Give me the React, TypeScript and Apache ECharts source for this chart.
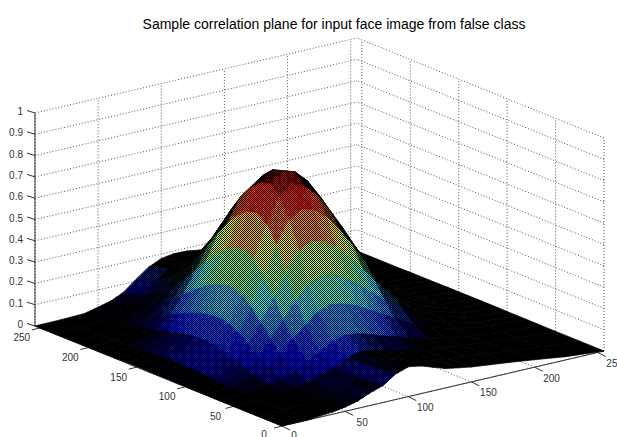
import React, { useEffect, useRef } from "react";
import * as echarts from "echarts";

const titleText = "Sample correlation plane for input face image from false class";
const xTicks = [0, 50, 100, 150, 200, 250];
const yTicks = [0, 50, 100, 150, 200, 250];
const zTicks = [0, 0.1, 0.2, 0.3, 0.4, 0.5, 0.6, 0.7, 0.8, 0.9, 1];
const zTickLabels = ["0", "0.1", "0.2", "0.3", "0.4", "0.5", "0.6", "0.7", "0.8", "0.9", "1"];

const gridX = [0, 20, 40, 50, 60, 70, 80, 90, 100, 110, 120, 130, 140, 150, 165, 180, 200, 225, 255];
const gridY = [0, 25, 50, 65, 80, 90, 100, 110, 120, 130, 140, 150, 160, 170, 180, 190, 200, 215, 235, 255];
const heights = [
  [0, 0, .01, .02, .035, .06, .08, .12, .14, .13, .11, .09, .08, .07, .06, .05, .035, .015, 0],
  [0, 0, .009, .018, .032, .053, .071, .106, .123, .115, .097, .08, .071, .062, .052, .043, .03, .013, 0],
  [0, .001, .011, .021, .035, .057, .076, .104, .118, .111, .097, .081, .071, .061, .048, .037, .024, .01, 0],
  [0, .003, .018, .035, .059, .09, .119, .154, .169, .162, .145, .124, .107, .088, .065, .045, .026, .01, 0],
  [.001, .006, .035, .065, .109, .164, .216, .266, .286, .276, .253, .22, .187, .152, .105, .067, .033, .011, .001],
  [.001, .01, .052, .096, .159, .238, .314, .38, .406, .394, .363, .318, .269, .218, .147, .092, .042, .012, .001],
  [.002, .014, .071, .131, .218, .323, .427, .511, .544, .528, .488, .429, .363, .292, .195, .119, .054, .015, .001],
  [.002, .018, .089, .165, .273, .404, .534, .637, .677, .658, .61, .537, .453, .364, .241, .146, .063, .017, .002],
  [.003, .021, .102, .189, .313, .462, .611, .727, .771, .75, .695, .612, .517, .415, .274, .163, .07, .018, .002],
  [.003, .022, .107, .199, .33, .489, .649, .774, .815, .802, .745, .657, .556, .447, .296, .177, .076, .02, .002],
  [.003, .022, .105, .195, .323, .479, .637, .759, .807, .788, .733, .649, .548, .442, .293, .175, .075, .02, .002],
  [.003, .02, .098, .183, .304, .451, .601, .717, .763, .745, .695, .615, .521, .42, .278, .166, .071, .019, .002],
  [.003, .018, .089, .167, .277, .411, .55, .658, .701, .687, .64, .568, .482, .389, .259, .154, .067, .018, .002],
  [.002, .016, .077, .145, .241, .358, .482, .578, .617, .606, .566, .503, .428, .346, .23, .138, .059, .016, .001],
  [.002, .013, .064, .122, .203, .303, .409, .492, .527, .518, .485, .434, .37, .299, .2, .119, .051, .014, .001],
  [.001, .011, .051, .098, .164, .246, .336, .407, .438, .432, .406, .364, .312, .253, .17, .102, .044, .012, .001],
  [.001, .008, .039, .078, .13, .197, .274, .337, .366, .363, .343, .309, .267, .218, .148, .09, .04, .011, .001],
  [.001, .005, .025, .053, .089, .138, .2, .252, .278, .28, .268, .245, .215, .177, .124, .077, .036, .011, 0],
  [0, .002, .011, .03, .052, .086, .136, .182, .208, .215, .209, .196, .176, .148, .107, .069, .033, .011, 0],
  [0, .001, .005, .019, .034, .061, .108, .152, .179, .188, .186, .177, .163, .139, .102, .067, .033, .011, 0],
];

const AXIS_MAX = 255;
const project = (x: number, y: number, z: number): number[] => [
  282 + (x * 322) / AXIS_MAX - (y * 247) / AXIS_MAX,
  426 - (x * 75) / AXIS_MAX - (y * 100) / AXIS_MAX - z * 213,
];

const clamp01 = (v: number) => Math.max(0, Math.min(1, v));
const jet = (t: number, k: number) => {
  const c = (o: number) => Math.round(255 * k * clamp01(1.5 - Math.abs(4 * t - o)));
  return `rgb(${c(3)},${c(2)},${c(1)})`;
};
const zPeak = Math.max(...heights.map((r) => Math.max(...r)));
const signedArea = (p: number[][]) => {
  let s = 0;
  p.forEach((a, i) => {
    const b = p[(i + 1) % p.length];
    s += a[0] * b[1] - b[0] * a[1];
  });
  return s / 2;
};

type Seg = number[];
const gridSegs: Seg[] = [];
const M = AXIS_MAX;
xTicks.forEach((x) => {
  gridSegs.push([x, M, 0, x, M, 1]);
  gridSegs.push([x, 0, 0, x, M, 0]);
});
yTicks.forEach((y) => {
  gridSegs.push([M, y, 0, M, y, 1]);
  gridSegs.push([0, y, 0, M, y, 0]);
});
zTicks.forEach((z) => {
  gridSegs.push([0, M, z, M, M, z]);
  gridSegs.push([M, 0, z, M, M, z]);
});

const axisSegs: Seg[] = [
  [0, M, 0, 0, M, 1],
  [0, 0, 0, M, 0, 0],
  [0, 0, 0, 0, M, 0],
];

const labels: { text: string; x: number; y: number; align: string }[] = [];
const tickOffsets: number[][] = [];
xTicks.forEach((x) => {
  const p = project(x, 0, 0);
  tickOffsets.push([p[0], p[1], p[0] + 8, p[1] + 4]);
  labels.push({ text: String(x), x: p[0] + (x === 0 ? 12 : 17), y: p[1] + (x === 0 ? 9 : 11), align: "center" });
});
yTicks.forEach((y) => {
  const p = project(0, y, 0);
  tickOffsets.push([p[0], p[1], p[0] - 8, p[1] + 2]);
  labels.push({ text: String(y), x: p[0] - 18, y: p[1] + (y === 0 ? 8 : 10), align: "center" });
});
zTicks.forEach((z, i) => {
  const p = project(0, M, z);
  tickOffsets.push([p[0], p[1], p[0] - 8, p[1] - 2.5]);
  labels.push({ text: zTickLabels[i], x: p[0] - 12, y: p[1] - 1.5, align: "right" });
});

const cells: number[][] = [];
for (let j = gridY.length - 2; j >= 0; j--) {
  for (let i = gridX.length - 2; i >= 0; i--) cells.push([i, j]);
}

export default function App() {
  const ref = useRef<HTMLDivElement>(null);
  useEffect(() => {
    document.body.style.margin = "0";
    document.body.style.background = "#fff";
    const chart = echarts.init(ref.current!, undefined, { renderer: "svg" });
    const pat = document.createElement("canvas");
    pat.width = 2;
    pat.height = 2;
    const ctx = pat.getContext("2d")!;
    ctx.fillStyle = "#000";
    ctx.fillRect(0, 0, 1, 1);
    ctx.fillRect(1, 1, 1, 1);
    const dots = { image: pat, repeat: "repeat" };

    const segRender = (color: string, dash: number[] | null) => (params: any, api: any) => {
      const s = params.dataIndex;
      const d = dash ? gridSegs[s] : axisSegs[s];
      const a = api.coord(project(d[0], d[1], d[2]));
      const b = api.coord(project(d[3], d[4], d[5]));
      return {
        type: "line",
        shape: { x1: a[0], y1: a[1], x2: b[0], y2: b[1] },
        style: { stroke: color, lineWidth: 1, lineDash: dash || undefined },
      };
    };

    const surface = (params: any, api: any) => {
      const [i, j] = cells[params.dataIndex];
      const ids = [[i, j], [i + 1, j], [i + 1, j + 1], [i, j + 1]];
      const zs = ids.map(([a, b]) => heights[b][a]);
      const pts = ids.map(([a, b]) => api.coord(project(gridX[a], gridY[b], heights[b][a])));
      const flat = ids.map(([a, b]) => api.coord(project(gridX[a], gridY[b], 0)));
      const ratio = signedArea(pts) / signedArea(flat);
      const k = clamp01((ratio - 1.2) / 1.1);
      const zAvg = zs.reduce((a, b) => a + b, 0) / 4;
      const col = jet(zAvg / zPeak, k);
      const base = {
        type: "polygon",
        shape: { points: pts },
        style: { fill: col, stroke: col, lineWidth: 0.7 },
      };
      if (k <= 0.01) return base;
      return {
        type: "group",
        children: [
          base,
          { type: "polygon", shape: { points: pts }, style: { fill: dots, stroke: dots, lineWidth: 0.9 } },
        ],
      };
    };

    chart.setOption({
      animation: false,
      backgroundColor: "#fff",
      title: {
        text: titleText,
        left: 329,
        top: 12,
        textAlign: "center",
        textStyle: { fontFamily: "Liberation Sans", fontSize: 14, fontWeight: "normal", color: "#000" },
      },
      grid: { left: 0, right: 0, top: 0, bottom: 0 },
      xAxis: { type: "value", min: 0, max: 617, show: false },
      yAxis: { type: "value", min: 0, max: 437, inverse: true, show: false },
      series: [
        {
          type: "custom", silent: true, clip: false, z: 1,
          data: gridSegs.map((_, i) => [i]),
          renderItem: segRender("#555", [1, 2]),
        },
        {
          type: "custom", silent: true, clip: false, z: 2,
          data: axisSegs.map((_, i) => [i]),
          renderItem: segRender("#333", null),
        },
        {
          type: "custom", silent: true, clip: false, z: 2,
          data: tickOffsets.map((_, i) => [i]),
          renderItem: (params: any, api: any) => {
            const t = tickOffsets[params.dataIndex];
            const a = api.coord([t[0], t[1]]);
            const b = api.coord([t[2], t[3]]);
            return {
              type: "line",
              shape: { x1: a[0], y1: a[1], x2: b[0], y2: b[1] },
              style: { stroke: "#333", lineWidth: 1 },
            };
          },
        },
        {
          type: "custom", silent: true, clip: false, z: 3, progressive: 0,
          data: cells,
          renderItem: surface,
        },
        {
          type: "custom", silent: true, clip: false, z: 4,
          data: labels.map((_, i) => [i]),
          renderItem: (params: any, api: any) => {
            const l = labels[params.dataIndex];
            const p = api.coord([l.x, l.y]);
            return {
              type: "text",
              x: p[0],
              y: p[1],
              style: {
                text: l.text,
                fill: "#333",
                font: "10px 'Liberation Sans'",
                align: l.align,
                verticalAlign: "middle",
              },
            };
          },
        },
      ],
    });
    return () => chart.dispose();
  }, []);
  return <div ref={ref} style={{ width: 617, height: 437 }} />;
}
